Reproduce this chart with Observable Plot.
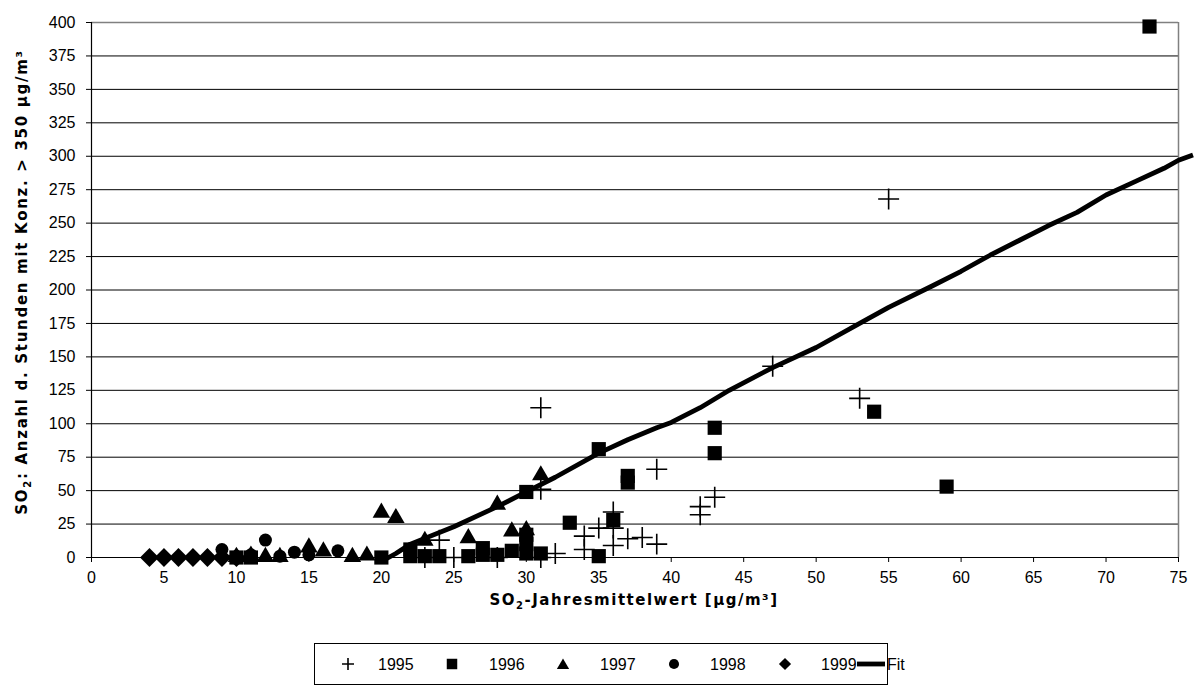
<!DOCTYPE html>
<html>
<head>
<meta charset="utf-8">
<script src="https://cdn.jsdelivr.net/npm/d3@7"></script>
<script src="https://cdn.jsdelivr.net/npm/@observablehq/plot@0.6"></script>
<style>
  body { margin: 0; background: #fff; }
</style>
</head>
<body>
<div id="chart"></div>
<script>
// ---- data ----
const s1995 = [[31,112],[31,51],[39,66],[36,34],[36,22],[36,9],[42,38],[42,32],[43,45],[47,143],[53,119],[55,268],
               [24,13],[32,3],[34,16],[34,6],[35,22],[37,14],[38,15],[39,10],[23,0],[25,0],[28,0],[31,0]];
const s1996 = [[10,0],[11,0],[20,0],[22,6],[22,1],[23,1],[24,1],[26,1],[27,7],[27,2],[28,2],[29,5],[30,49],[30,17],[30,10],[30,3],
               [31,3],[33,26],[35,81],[35,1],[36,28],[37,56],[37,61],[43,97],[43,78],[54,109],[59,53],[73,397]];
const s1997 = [[10,2],[11,3],[12,2],[13,2],[15,9],[16,6],[18,2],[19,3],[20,35],[21,31],[23,14],[26,16],[28,41],[29,21],[30,22],[31,63]];
const s1998 = [[9,6],[11,2],[12,13],[13,1],[14,4],[15,2],[17,5]];
const s1999 = [[4,0],[5,0],[6,0],[7,0],[8,0],[9,0],[10,0]];
const fitX = [20,21,22,25,28,30,32,35,37,39,40,42,44,47,50,53,55,58,60,62,64,66,68,70,72,74,75,76];
const fitY = [-3,3,10,23,38,49,60,78,88,97,101,112,125,142,157,175,187,203,214,226,237,248,258,271,281,291,297,301];
const xTicks = d3.range(0, 76, 5);
const yTicks = d3.range(0, 401, 25);
const legendLabels = ["1995","1996","1997","1998","1999","Fit"];

const fit = fitX.map((x, i) => ({x, y: fitY[i]}));
const pts = a => a.map(([x, y]) => ({x, y}));

const chart = Plot.plot({
  width: 1199, height: 640,
  marginLeft: 91, marginRight: 21, marginTop: 22, marginBottom: 83,
  style: {fontFamily: "Liberation Sans, Arial, sans-serif", fontSize: "16px", color: "#000", background: "#fff"},
  x: {domain: [0, 75], ticks: xTicks, label: null, tickSize: 5, tickPadding: 9},
  y: {domain: [0, 400], ticks: yTicks, label: null, tickSize: 5, tickPadding: 11},
  marks: [
    Plot.ruleY(yTicks.filter(d => d > 0 && d < 400), {stroke: "#000", strokeWidth: 1}),
    Plot.ruleY([400], {stroke: "#808080", strokeWidth: 1.5}),
    Plot.ruleX([75], {stroke: "#808080", strokeWidth: 1.5}),
    Plot.ruleY([0], {stroke: "#000", strokeWidth: 1.2}),
    Plot.ruleX([0], {stroke: "#000", strokeWidth: 1.2}),
    Plot.dot(pts(s1995), {x: "x", y: "y", symbol: "plus", r: 6.8, stroke: "#000", strokeWidth: 1.6, fill: "none"}),
    Plot.dot(pts(s1996), {x: "x", y: "y", symbol: "square", r: 8, fill: "#000", stroke: "none"}),
    Plot.dot(pts(s1997), {x: "x", y: "y", symbol: "triangle", r: 6.5, dy: 2, fill: "#000", stroke: "none"}),
    Plot.dot(pts(s1998), {x: "x", y: "y", symbol: "circle", r: 6.5, fill: "#000", stroke: "none"}),
    Plot.dot(pts(s1999), {x: "x", y: "y", symbol: "diamond2", r: 8.5, fill: "#000", stroke: "none"}),
    Plot.line(fit, {x: "x", y: "y", stroke: "#000", strokeWidth: 4.8, strokeLinejoin: "round", strokeLinecap: "butt"})
  ]
});

const svg = d3.select(chart);
// y-axis title with subscript
const yt = svg.append("text")
  .attr("transform", "translate(27,282) rotate(-90)")
  .attr("text-anchor", "middle")
  .attr("font-family", "DejaVu Sans")
  .attr("font-weight", "bold").attr("font-size", 15)
  .style("letter-spacing", "1.7px");
yt.append("tspan").text("SO");
yt.append("tspan").attr("font-size", 10).attr("dy", 4).text("2");
yt.append("tspan").attr("dy", -4).text(": Anzahl d. Stunden mit Konz. > 350 µg/m³");
// x-axis title
const xt = svg.append("text")
  .attr("x", 634).attr("y", 605)
  .attr("text-anchor", "middle")
  .attr("font-family", "DejaVu Sans")
  .attr("font-weight", "bold").attr("font-size", 15)
  .style("letter-spacing", "1.5px");
xt.append("tspan").text("SO");
xt.append("tspan").attr("font-size", 10).attr("dy", 4).text("2");
xt.append("tspan").attr("dy", -4).text("-Jahresmittelwert [µg/m³]");

document.getElementById("chart").appendChild(chart);

// ---- legend below the plot ----
const oy = 640;
const leg = d3.create("svg").attr("width", 1199).attr("height", 60)
  .style("display", "block")
  .style("font-family", "Liberation Sans, Arial, sans-serif").style("font-size", "16px");
leg.append("rect").attr("x", 314.5).attr("y", 643.5 - oy).attr("width", 573).attr("height", 41)
  .attr("fill", "#fff").attr("stroke", "#000");
const cy = 664 - oy;
const items = [
  {type: d3.symbolPlus, size: 49, cx: 348, tx: 378, stroke: true},
  {type: d3.symbolSquare, size: 110, cx: 452, tx: 489},
  {type: d3.symbolTriangle, size: 65, cx: 563, tx: 600, dy: 1.5},
  {type: d3.symbolCircle, size: 80, cx: 674, tx: 710},
  {type: d3.symbolDiamond2, size: 95, cx: 785, tx: 821}
];
items.forEach((it, i) => {
  leg.append("path")
    .attr("d", d3.symbol().type(it.type).size(it.size)())
    .attr("transform", `translate(${it.cx},${cy + (it.dy || 0)})`)
    .attr("fill", it.stroke ? "none" : "#000")
    .attr("stroke", it.stroke ? "#000" : "none")
    .attr("stroke-width", 1.6);
  leg.append("text").attr("x", it.tx).attr("y", cy + 5.6).text(legendLabels[i]);
});
leg.append("line").attr("x1", 857).attr("x2", 885).attr("y1", cy).attr("y2", cy)
  .attr("stroke", "#000").attr("stroke-width", 4.8);
leg.append("text").attr("x", 887).attr("y", cy + 5.6).text(legendLabels[5]);
document.getElementById("chart").appendChild(leg.node());
</script>
</body>
</html>
